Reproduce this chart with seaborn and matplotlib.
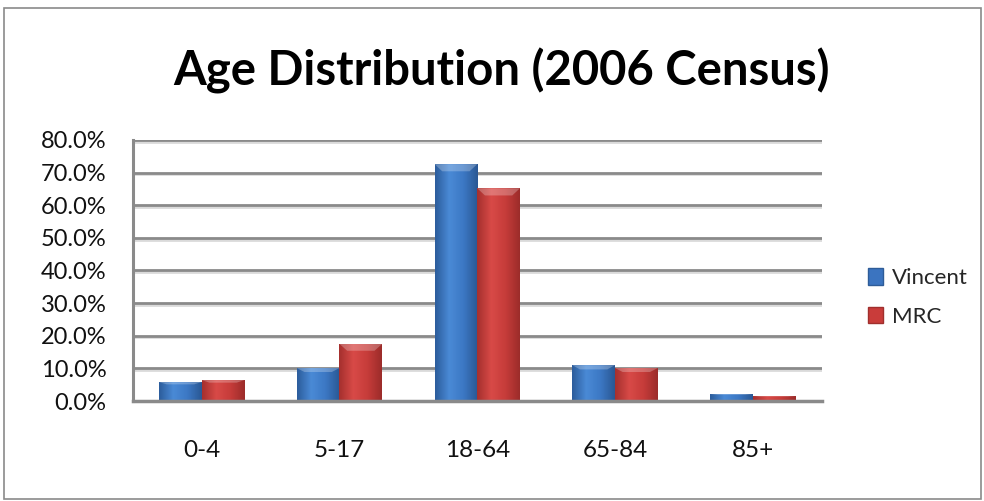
import matplotlib
matplotlib.use("Agg")
import matplotlib.pyplot as plt
import matplotlib.patches as mpatches
import matplotlib.patheffects as pe
from matplotlib.colors import LinearSegmentedColormap
import numpy as np
import seaborn as sns
import pandas as pd

# Age groups and the share of population in each (percent)
age_groups = ["0-4", "5-17", "18-64", "65-84", "85+"]
vincent = [5.8, 10.1, 72.6, 11.0, 2.1]
mrc = [6.4, 17.5, 65.2, 10.1, 1.5]
series_names = ["Vincent", "MRC"]
y_ticks = [0, 10, 20, 30, 40, 50, 60, 70, 80]

df = pd.DataFrame({
    "Age": age_groups * 2,
    "Share": vincent + mrc,
    "Area": [series_names[0]] * len(age_groups) + [series_names[1]] * len(age_groups),
})

sns.set_theme(style="white")
plt.rcParams["font.family"] = ["Lato", "DejaVu Sans"]

blue = "#3b74c0"
red = "#c93c3a"
shades = {
    blue: LinearSegmentedColormap.from_list("b", ["#2c5d9c", "#4a8ad6", "#3c78c4", "#2a5894"]),
    red: LinearSegmentedColormap.from_list("r", ["#a5302e", "#d84a47", "#c63c3a", "#9c2c2a"]),
}

fig = plt.figure(figsize=(9.84, 5.01), dpi=100)
ax = fig.add_axes([0.135, 0.1996, 0.7, 0.521])

# gridlines with a soft shadow underneath
for t in y_ticks[1:]:
    ax.axhline(t, color="#8a8a8a", lw=2.0, zorder=0,
               path_effects=[pe.SimpleLineShadow(offset=(0, -1.2), shadow_color="#dadada", alpha=1.0),
                             pe.Normal()])

sns.barplot(data=df, x="Age", y="Share", hue="Area", order=age_groups,
            hue_order=series_names, palette=[blue, red], width=0.62,
            ax=ax, legend=False, zorder=3, saturation=1)

ax.set_ylim(0, 80)
ax.set_xlim(-0.5, len(age_groups) - 0.5)

# shaded, bevelled look on each bar
grad = np.linspace(0, 1, 64).reshape(1, -1)
for bar, base in zip(ax.patches, [blue] * len(age_groups) + [red] * len(age_groups)):
    x0, y0 = bar.get_x(), bar.get_y()
    w, h = bar.get_width(), bar.get_height()
    bar.set_edgecolor("none")
    im = ax.imshow(grad, cmap=shades[base], aspect="auto", extent=(x0, x0 + w, y0, y0 + h),
                   zorder=3.5, interpolation="bicubic")
    im.set_clip_path(bar)
    cap = min(h * 0.12, 2.2)
    ax.add_patch(mpatches.Polygon([(x0, y0 + h), (x0 + w, y0 + h),
                                   (x0 + w * 0.82, y0 + h - cap), (x0 + w * 0.18, y0 + h - cap)],
                                  closed=True, facecolor="white", alpha=0.25, edgecolor="none",
                                  zorder=4))

ax.set_yticks(y_ticks)
ax.set_yticklabels([f"{t:.1f}%" for t in y_ticks])
ax.set_xlabel("")
ax.set_ylabel("")

for side in ["top", "right"]:
    ax.spines[side].set_visible(False)
ax.spines["left"].set_color("#8a8a8a")
ax.spines["left"].set_linewidth(2.2)
ax.spines["bottom"].set_color("#8a8a8a")
ax.spines["bottom"].set_linewidth(2.5)
ax.spines["bottom"].set_zorder(5)

ax.tick_params(axis="y", labelsize=17, length=0, pad=19)
ax.tick_params(axis="x", labelsize=17.5, length=0, pad=28)
for lbl in ax.get_xticklabels() + ax.get_yticklabels():
    lbl.set_color("#111111")

fig.text(0.510, 0.858, "Age Distribution (2006 Census)", ha="center", va="center",
         fontsize=34, fontweight="bold", color="#000000")

handles = [mpatches.Patch(facecolor=blue, edgecolor="#2e5c98", label=series_names[0]),
           mpatches.Patch(facecolor=red, edgecolor="#a02f2d", label=series_names[1])]
fig.legend(handles=handles, loc="center left", bbox_to_anchor=(0.862, 0.406),
           frameon=False, fontsize=16, handlelength=0.65, handleheight=0.75,
           handletextpad=0.4, labelspacing=0.85)

# outer chart border
fig.add_artist(mpatches.Rectangle((0.004, 0.004), 0.993, 0.98, transform=fig.transFigure,
                                  fill=False, edgecolor="#8a8a8a", lw=1.2))

fig.savefig("out.png", dpi=100, facecolor="white")
